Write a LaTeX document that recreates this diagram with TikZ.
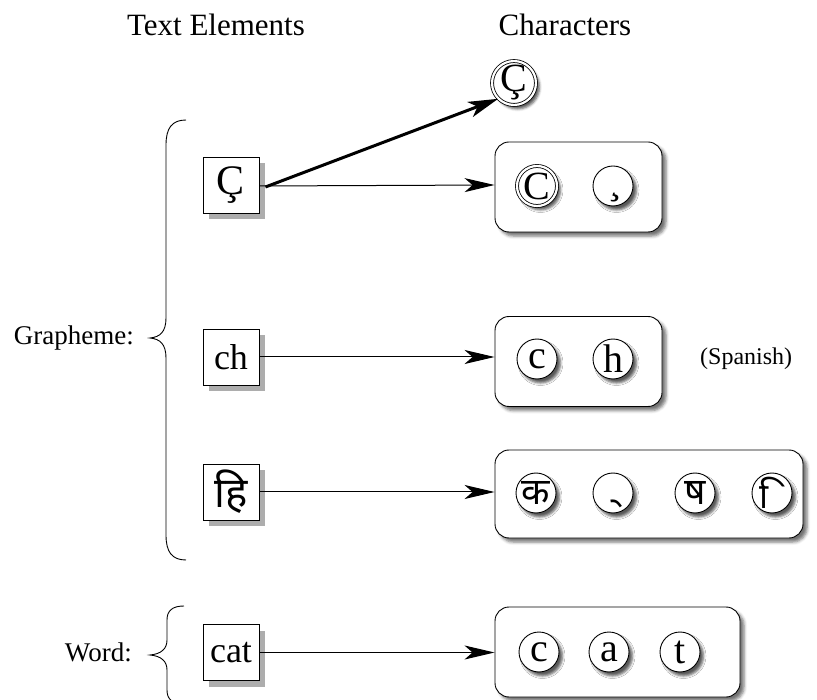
\documentclass[tikz,border=0pt]{standalone}
\usepackage{fontspec}
\setmainfont{Liberation Serif}
\newfontfamily\deva[Script=Devanagari]{Noto Sans}
\usetikzlibrary{shadows,shadows.blur,arrows.meta}
\tikzset{
  elem/.style={draw, line width=0.9pt, fill=white, minimum size=56pt,
    inner sep=0pt, font=\fontsize{36}{36}\selectfont,
    drop shadow={shadow xshift=6pt, shadow yshift=-6pt, fill=black!32, opacity=1}},
  chr/.style={draw, circle, line width=0.9pt, fill=white, minimum size=40pt,
    inner sep=0pt, font=\fontsize{40}{40}\selectfont,
    blur shadow={shadow xshift=3.5pt, shadow yshift=-4pt, shadow blur radius=2.5pt,
      shadow opacity=65}},
  ringed/.style={chr, double, double distance=2.2pt, line width=0.8pt},
  dchr/.style={chr, font=\deva\fontsize{37}{37}\selectfont},
  grp/.style={draw, rounded corners=14pt, line width=0.9pt, fill=white,
    blur shadow={shadow xshift=4pt, shadow yshift=-4pt, shadow blur radius=3pt,
      shadow opacity=55}},
  link/.style={-{Stealth[length=30pt,width=14pt,inset=8pt]}, line width=1pt},
  biglink/.style={-{Stealth[length=30pt,width=16pt,inset=8pt]}, line width=3pt},
  label/.style={font=\fontsize{31}{31}\selectfont, inner sep=0pt},
  side/.style={font=\fontsize{27}{27}\selectfont, inner sep=0pt},
  brace/.style={line width=0.9pt},
}
\begin{document}
\begin{tikzpicture}[x=1pt, y=-1pt]
\useasboundingbox (0,0) rectangle (817,700);

% column headings
\node[label] (h1) at (216,25) {Text Elements};
\node[label] (h2) at (565,25) {Characters};

% grouping boxes of characters
\node[grp, minimum width=167pt, minimum height=90pt] (g1) at (578.5,187) {};
\node[grp, minimum width=167pt, minimum height=90pt] (g2) at (578.5,361.5) {};
\node[grp, minimum width=308pt, minimum height=88pt] (g3) at (649,494) {};
\node[grp, minimum width=245pt, minimum height=90pt] (g4) at (617.5,652) {};

% precomposed character
\node[ringed] (cc) at (514,83) {\raisebox{2pt}{Ç}};

% characters
\node[ringed] (c1) at (537,186) {C};
\node[chr] (c2) at (613,186) {\hspace{4pt}\raisebox{-8pt}[0pt][0pt]{¸}};
\node[chr] (d1) at (537,359) {c};
\node[chr] (d2) at (613,359) {h};
\node[dchr] (e1) at (536,493) {क};
\node[dchr] (e2) at (613,493) {\raisebox{-6pt}[0pt][0pt]{\char"00A0्}};
\node[dchr] (e3) at (695,493) {ष};
\node[dchr, font=\deva\fontsize{35}{35}\selectfont] (e4) at (772,493)
  {\makebox[0pt]{\hspace{-6pt}\char"00A0ि}};
\node[chr] (f1) at (539,652) {c};
\node[chr] (f2) at (609,652) {a};
\node[chr] (f3) at (680,652) {t};

% text elements
\node[elem, font=\fontsize{42}{42}\selectfont] (t1) at (231,185) {Ç};
\node[elem] (t2) at (231,357) {ch};
\node[elem, font=\deva\fontsize{42}{42}\selectfont] (t3) at (231,492) {हि};
\node[elem] (t4) at (231,652.5) {cat};

% mappings
\draw[biglink] ([xshift=6pt,yshift=-2pt]t1.east) coordinate (s0) -- (cc.south west);
\draw[link] ([yshift=-1pt]t1.east) -- (g1.west |- t1.east);
\draw[link] (t2.east) -- (g2.west |- t2.east);
\draw[link] (t3.east) -- (g3.west |- t3.east);
\draw[link] (t4.east) -- (g4.west |- t4.east);

\node[side, font=\fontsize{24}{24}\selectfont, anchor=west] (sp) at (700,359) {(Spanish)};

% braces
\coordinate (b1t) at (186,120);
\coordinate (b1m) at (150,338);
\coordinate (b1b) at (186,560);
\draw[brace] (b1t) .. controls (172,120) and (166,128) .. (166,145)
  -- (166,318) .. controls (166,332) and (160,337) .. (b1m)
  .. controls (160,339) and (166,344) .. (166,358)
  -- (166,535) .. controls (166,552) and (172,560) .. (b1b);
\node[side, anchor=east] (gr) at (134,338) {Grapheme:};

\coordinate (b2t) at (184,606);
\coordinate (b2m) at (150,655);
\coordinate (b2b) at (184,704);
\draw[brace] (b2t) .. controls (172,606) and (167,611) .. (167,620)
  -- (167,640) .. controls (167,649) and (161,654) .. (b2m)
  .. controls (161,656) and (167,661) .. (167,670)
  -- (167,690) .. controls (167,699) and (172,704) .. (b2b);
\node[side, anchor=east] (wd) at (132,652) {Word:};
\end{tikzpicture}
\end{document}
